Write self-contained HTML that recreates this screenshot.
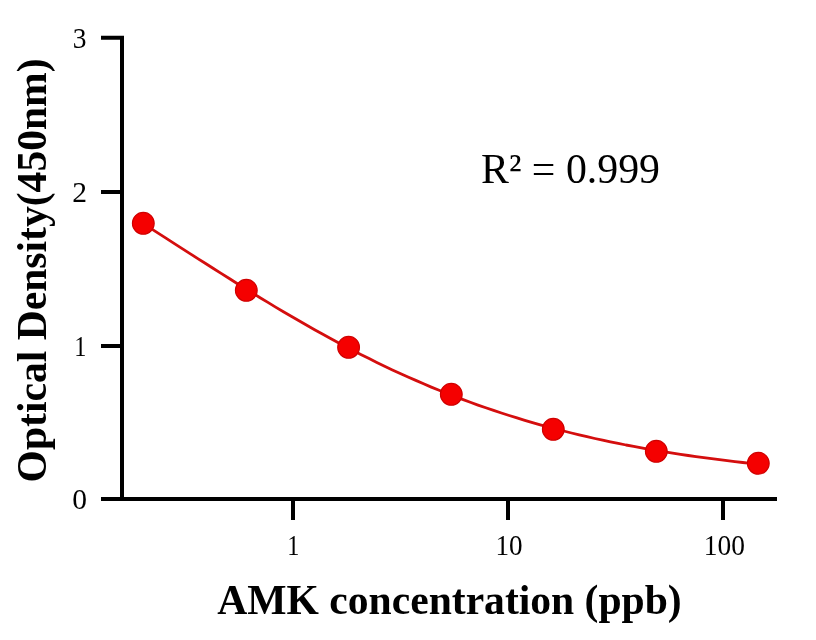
<!DOCTYPE html>
<html><head><meta charset="utf-8">
<style>
html,body{margin:0;padding:0;background:#fff;width:816px;height:640px;overflow:hidden}
svg{display:block;will-change:transform}
text{font-family:"Liberation Serif",serif;fill:#000}
</style></head><body>
<svg width="816" height="640" viewBox="0 0 816 640">
<g stroke="#000" stroke-width="4" fill="none" stroke-linecap="butt">
<path d="M101 37.75H122V501"/>
<path d="M101 192H122M101 346H122"/>
<path d="M101 499H777"/>
<path d="M293 499V520M508 499V520M723 499V520"/>
</g>
<g font-size="29.5" text-anchor="middle">
<text transform="translate(79.6 47.8) scale(0.93 1)">3</text>
<text x="79.6" y="201.9">2</text>
<text transform="translate(80.2 355.9) scale(0.82 1)">1</text>
<text x="79.6" y="509.2">0</text>
<text transform="translate(293.2 555) scale(0.82 1)">1</text>
<text transform="translate(509 555) scale(0.92 1)">10</text>
<text transform="translate(724.4 555) scale(0.93 1)">100</text>
</g>
<text x="449.5" y="613.8" font-size="41.6" font-weight="bold" text-anchor="middle">AMK concentration (ppb)</text>
<text transform="translate(45.7 270.4) rotate(-90)" font-size="41.6" font-weight="bold" text-anchor="middle">Optical Density(450nm)</text>
<text x="481" y="183" font-size="41.8">R² = 0.999</text>
<path d="M143.3 223.6 L151.1 228.6 L158.9 233.6 L166.7 238.6 L174.4 243.6 L182.2 248.6 L190.0 253.6 L197.8 258.6 L205.6 263.5 L213.4 268.5 L221.1 273.4 L228.9 278.3 L236.7 283.2 L244.5 288.1 L252.3 292.9 L260.1 297.7 L267.9 302.4 L275.6 307.1 L283.4 311.7 L291.2 316.3 L299.0 320.8 L306.8 325.3 L314.6 329.7 L322.4 334.0 L330.1 338.3 L337.9 342.5 L345.7 346.7 L353.5 350.7 L361.3 354.7 L369.1 358.6 L376.8 362.4 L384.6 366.2 L392.4 369.9 L400.2 373.5 L408.0 377.0 L415.8 380.4 L423.6 383.8 L431.3 387.1 L439.1 390.3 L446.9 393.4 L454.7 396.4 L462.5 399.4 L470.3 402.3 L478.0 405.1 L485.8 407.8 L493.6 410.4 L501.4 413.0 L509.2 415.5 L517.0 417.9 L524.8 420.3 L532.5 422.6 L540.3 424.8 L548.1 426.9 L555.9 429.0 L563.7 431.0 L571.5 433.0 L579.2 434.9 L587.0 436.7 L594.8 438.5 L602.6 440.2 L610.4 441.8 L618.2 443.4 L626.0 445.0 L633.7 446.4 L641.5 447.9 L649.3 449.3 L657.1 450.6 L664.9 451.9 L672.7 453.1 L680.5 454.3 L688.2 455.5 L696.0 456.6 L703.8 457.7 L711.6 458.7 L719.4 459.7 L727.2 460.7 L734.9 461.6 L742.7 462.5 L750.5 463.3 L758.3 464.2" stroke="#d40e0e" stroke-width="2.8" fill="none" stroke-linejoin="round"/>
<g fill="#f50000" stroke="#d00000" stroke-width="1.1">
<circle cx="143.3" cy="223.3" r="10.9"/>
<circle cx="246.3" cy="290.3" r="10.9"/>
<circle cx="348.6" cy="347.3" r="10.9"/>
<circle cx="451.3" cy="394.3" r="10.9"/>
<circle cx="553.3" cy="429.3" r="10.9"/>
<circle cx="656.3" cy="451.3" r="10.9"/>
<circle cx="758.3" cy="463.3" r="10.9"/>
</g>
</svg>
</body></html>
